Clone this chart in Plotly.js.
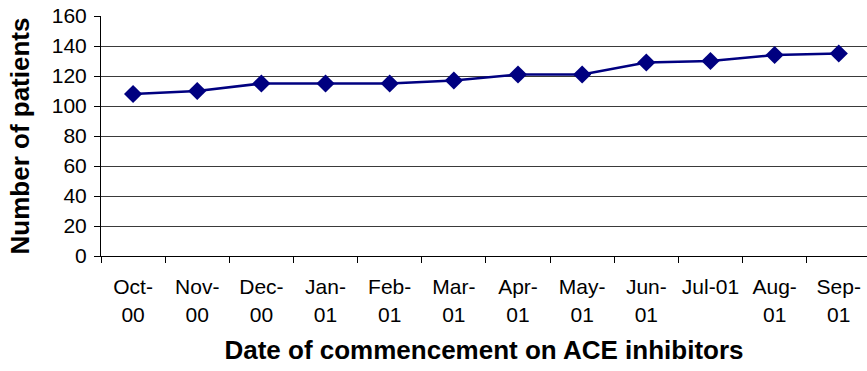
<!DOCTYPE html>
<html>
<head>
<meta charset="utf-8">
<script src="https://cdn.plot.ly/plotly-3.0.1.min.js"></script>
<style>html,body{margin:0;padding:0;background:#fff;}#chart{width:867px;height:371px;}</style>
</head>
<body>
<div id="chart"></div>
<script>
const categories = ["Oct-<br>00","Nov-<br>00","Dec-<br>00","Jan-<br>01","Feb-<br>01","Mar-<br>01","Apr-<br>01","May-<br>01","Jun-<br>01","Jul-01","Aug-<br>01","Sep-<br>01"];
const patients = [108,110,115,115,115,117,121,121,129,130,134,135];
const yTicks = [0,20,40,60,80,100,120,140,160];

const trace = {
  x: categories,
  y: patients,
  type: "scatter",
  mode: "lines+markers",
  line: {color: "#000080", width: 2.5},
  marker: {symbol: "diamond", size: 14, color: "#000080"},
  hoverinfo: "skip"
};

const layout = {
  width: 867, height: 371,
  margin: {l: 101, r: 0, t: 16, b: 115, pad: 0},
  paper_bgcolor: "#ffffff",
  plot_bgcolor: "#ffffff",
  showlegend: false,
  font: {family: "Liberation Sans, Arial, sans-serif", color: "#000"},
  xaxis: {
    type: "category",
    range: [-0.5, 11.44],
    autorange: false,
    showgrid: false,
    zeroline: false,
    showline: true,
    linecolor: "#000",
    linewidth: 1,
    ticks: "outside",
    tickson: "boundaries",
    ticklen: 6,
    tickcolor: "#000",
    tickfont: {size: 21, color: "#000"},
    tickangle: 0,
    ticklabelstandoff: 12,
    title: {text: "Date of commencement on ACE inhibitors", font: {size: 26, color: "#000", family: "Liberation Sans, Arial, sans-serif", weight: "bold"}, standoff: 16}
  },
  yaxis: {
    range: [0, 160],
    autorange: false,
    tickvals: yTicks,
    ticktext: yTicks.map(String),
    showgrid: true,
    gridcolor: "#3a3a3a",
    gridwidth: 1,
    zeroline: false,
    showline: true,
    linecolor: "#000",
    linewidth: 1,
    ticks: "outside",
    ticklen: 6,
    tickcolor: "#000",
    tickfont: {size: 21, color: "#000"},
    ticklabelstandoff: 3,
    title: {text: "Number of patients", font: {size: 26, color: "#000", family: "Liberation Sans, Arial, sans-serif", weight: "bold"}, standoff: 14}
  }
};

Plotly.newPlot("chart", [trace], layout, {staticPlot: true, displayModeBar: false});
</script>
</body>
</html>
